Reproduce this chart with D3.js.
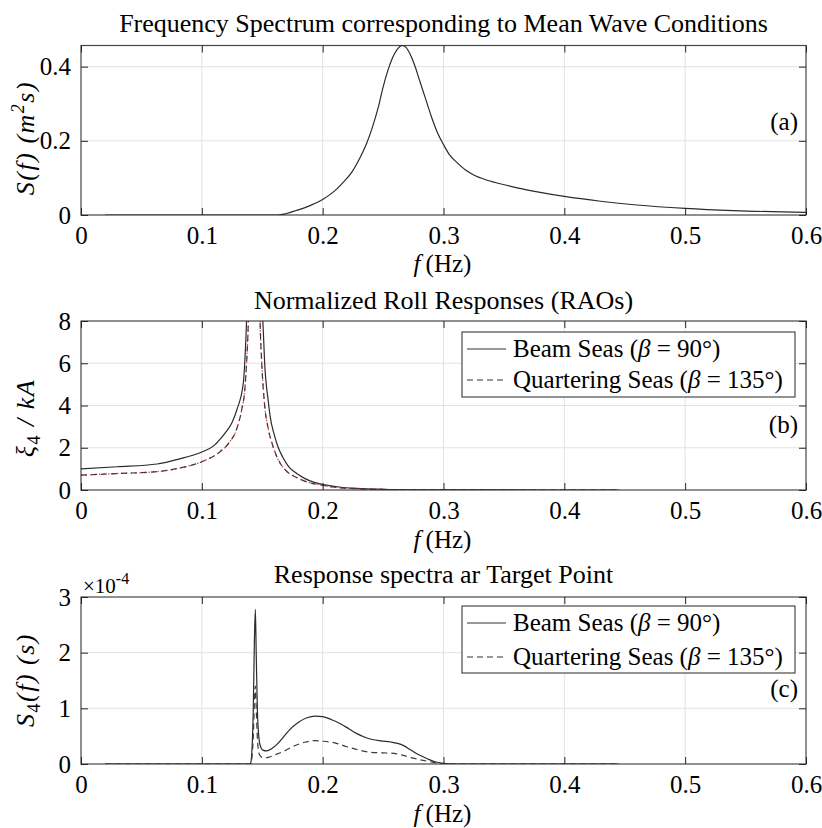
<!DOCTYPE html>
<html>
<head>
<meta charset="utf-8">
<script src="https://cdn.jsdelivr.net/npm/d3@7/dist/d3.min.js"></script>
<style>
  body { margin: 0; background: #fff; }
  svg text { font-family: "Liberation Serif", "Tinos", "Times New Roman", "DejaVu Serif", serif; fill: #000; }
</style>
</head>
<body>
<svg id="chart" width="822" height="828"></svg>
<script>
// ---- shared axis ticks ----
const xTicks = [0, 0.1, 0.2, 0.3, 0.4, 0.5, 0.6];
const yTicksA = [0, 0.2, 0.4];
const yTicksB = [0, 2, 4, 6, 8];
const yTicksC = [0, 1e-4, 2e-4, 3e-4];

// ---- (a) wave frequency spectrum S(f) [m^2 s] ----
const freqA = [0.02, 0.06, 0.1, 0.14, 0.163, 0.17, 0.178, 0.19, 0.2, 0.21, 0.217, 0.224, 0.231,
  0.236, 0.241, 0.246, 0.25, 0.254, 0.258, 0.262, 0.266, 0.269, 0.272, 0.276, 0.28, 0.285,
  0.29, 0.295, 0.3, 0.305, 0.311, 0.318, 0.325, 0.335, 0.346, 0.36, 0.38, 0.4, 0.43, 0.46,
  0.5, 0.54, 0.6];
const specA = [0, 0, 0, 0, 0, 0.004, 0.012, 0.026, 0.042, 0.065, 0.088, 0.115, 0.155,
  0.19, 0.235, 0.29, 0.345, 0.39, 0.425, 0.448, 0.457, 0.452, 0.436, 0.405, 0.365, 0.315,
  0.265, 0.222, 0.19, 0.162, 0.142, 0.122, 0.108, 0.095, 0.085, 0.074, 0.061, 0.05, 0.037, 0.027,
  0.018, 0.012, 0.007];

// ---- (b) normalized roll RAOs ----
const freqBeamB = [0, 0.03, 0.063, 0.08, 0.1, 0.11, 0.115, 0.12, 0.125, 0.129, 0.1344, 0.1355,
  0.1365, 0.1372, 0.1395, 0.1435, 0.1475, 0.1505, 0.152, 0.155, 0.1565, 0.16, 0.163, 0.167,
  0.172, 0.178, 0.185, 0.193, 0.202, 0.215, 0.228, 0.25, 0.28, 0.32, 0.38, 0.445];
const raoBeam = [1.0, 1.1, 1.23, 1.45, 1.8, 2.1, 2.4, 2.75, 3.2, 3.8, 5.1, 6.0,
  7.2, 8.3, 14, 40, 14, 8.0, 6.0, 4.2, 3.5, 2.6, 2.05, 1.55,
  1.1, 0.8, 0.55, 0.36, 0.24, 0.13, 0.08, 0.035, 0.01, 0.003, 0, 0];

const freqQuartB = [0, 0.03, 0.063, 0.08, 0.1, 0.115, 0.122, 0.129, 0.133, 0.1358, 0.137, 0.1385,
  0.1405, 0.1435, 0.1465, 0.1482, 0.1496, 0.152, 0.155, 0.159, 0.1647, 0.17, 0.18, 0.19,
  0.198, 0.21, 0.224, 0.25, 0.28, 0.32, 0.38, 0.445];
const raoQuart = [0.7, 0.78, 0.87, 1.02, 1.34, 1.81, 2.2, 2.92, 3.8, 4.9, 6.0, 8.0,
  14, 38, 14, 8.0, 6.0, 4.0, 2.9, 2.05, 1.28, 0.9, 0.55, 0.33,
  0.24, 0.13, 0.07, 0.025, 0.008, 0.002, 0, 0];

// ---- (c) roll response spectra at target point [s] ----
const freqBeamC = [0.02, 0.1, 0.14, 0.1405, 0.1425, 0.1435, 0.1443, 0.145, 0.146, 0.1475, 0.149,
  0.1505, 0.1537, 0.158, 0.163, 0.167, 0.172, 0.18, 0.187, 0.1936, 0.2, 0.207, 0.215, 0.222,
  0.228, 0.235, 0.241, 0.248, 0.2565, 0.262, 0.267, 0.273, 0.28, 0.287, 0.293, 0.3, 0.306,
  0.35, 0.445];
const respBeam = [0, 0, 0, 0.02e-4, 0.9e-4, 2.2e-4, 2.78e-4, 2.0e-4, 0.95e-4, 0.42e-4, 0.29e-4,
  0.25e-4, 0.235e-4, 0.28e-4, 0.37e-4, 0.47e-4, 0.6e-4, 0.75e-4, 0.83e-4, 0.86e-4, 0.85e-4, 0.8e-4, 0.72e-4, 0.63e-4,
  0.55e-4, 0.48e-4, 0.44e-4, 0.415e-4, 0.395e-4, 0.37e-4, 0.33e-4, 0.25e-4, 0.16e-4, 0.09e-4, 0.04e-4, 0.012e-4, 0,
  0, 0];

const freqQuartC = [0.02, 0.1, 0.14, 0.1405, 0.1425, 0.1435, 0.1443, 0.145, 0.146, 0.1475, 0.149,
  0.151, 0.155, 0.16, 0.167, 0.175, 0.185, 0.1936, 0.2, 0.21, 0.22, 0.23, 0.24, 0.25, 0.259,
  0.266, 0.272, 0.28, 0.289, 0.295, 0.3, 0.31, 0.35, 0.445];
const respQuart = [0, 0, 0, 0.01e-4, 0.45e-4, 1.1e-4, 1.4e-4, 1.0e-4, 0.45e-4, 0.18e-4, 0.13e-4,
  0.11e-4, 0.12e-4, 0.16e-4, 0.22e-4, 0.31e-4, 0.39e-4, 0.42e-4, 0.41e-4, 0.38e-4, 0.31e-4, 0.25e-4, 0.21e-4, 0.2e-4, 0.19e-4,
  0.16e-4, 0.12e-4, 0.08e-4, 0.04e-4, 0.015e-4, 0.003e-4, 0, 0, 0];

// ---- legend entries ----
const legendNames = ["Beam Seas", "Quartering Seas"];
const legendHeadings = ["90°", "135°"];

// ---------------------------------------------------------------
const svg = d3.select("#chart");
const L = 81, R = 806;
const AXIS_COLOR = "#262626";
const GRID_COLOR = "#e2e2e2";
const SERIF = '"Liberation Serif", "Tinos", "Times New Roman", "DejaVu Serif", serif';

function zip(fx, fy) { return fx.map((f, i) => [f, fy[i]]); }

function drawPanel(p, idx) {
  const x = d3.scaleLinear().domain([0, 0.6]).range([L, R]);
  const y = d3.scaleLinear().domain(p.yDomain).range([p.bottom, p.top]);
  const g = svg.append("g").attr("font-family", SERIF);

  // grid
  g.append("g").selectAll("line").data(xTicks.slice(1, -1)).join("line")
    .attr("x1", d => x(d)).attr("x2", d => x(d))
    .attr("y1", p.top).attr("y2", p.bottom)
    .attr("stroke", GRID_COLOR).attr("stroke-width", 1);
  g.append("g").selectAll("line").data(p.yTicks.filter(v => v > p.yDomain[0] && v < p.yDomain[1])).join("line")
    .attr("x1", L).attr("x2", R)
    .attr("y1", d => y(d)).attr("y2", d => y(d))
    .attr("stroke", GRID_COLOR).attr("stroke-width", 1);

  // data lines, clipped to the axes box
  const clipId = "clip" + idx;
  svg.append("clipPath").attr("id", clipId).append("rect")
    .attr("x", L).attr("y", p.top).attr("width", R - L).attr("height", p.bottom - p.top);
  const line = d3.line().x(d => x(d[0])).y(d => y(d[1])).curve(d3.curveMonotoneX);
  const lg = g.append("g").attr("clip-path", `url(#${clipId})`);
  p.series.forEach(s => {
    lg.append("path").datum(s.data)
      .attr("d", line)
      .attr("fill", "none")
      .attr("stroke", s.color)
      .attr("stroke-width", s.width)
      .attr("stroke-dasharray", s.dash || null)
      .attr("stroke-opacity", s.opacity || 1);
  });

  // axes with inward ticks on all four sides
  const fmtX = d => d === 0 ? "0" : d3.format(".1f")(d);
  const bottomAx = g.append("g").attr("transform", `translate(0,${p.bottom})`)
    .call(d3.axisBottom(x).tickValues(xTicks).tickSize(-7).tickPadding(11).tickFormat(fmtX));
  const topAx = g.append("g").attr("transform", `translate(0,${p.top})`)
    .call(d3.axisTop(x).tickValues(xTicks).tickSize(-7).tickFormat(""));
  const leftAx = g.append("g").attr("transform", `translate(${L},0)`)
    .call(d3.axisLeft(y).tickValues(p.yTicks).tickSize(-7).tickPadding(10).tickFormat(p.yFormat));
  const rightAx = g.append("g").attr("transform", `translate(${R},0)`)
    .call(d3.axisRight(y).tickValues(p.yTicks).tickSize(-7).tickFormat(""));
  [bottomAx, topAx, leftAx, rightAx].forEach(a => {
    a.attr("font-family", SERIF).attr("font-size", 25);
    a.select(".domain").remove();
    a.selectAll(".tick line").attr("stroke", AXIS_COLOR).attr("stroke-width", 1);
    a.selectAll(".tick text").attr("fill", "#000");
  });

  // axes box
  g.append("rect").attr("x", L).attr("y", p.top).attr("width", R - L).attr("height", p.bottom - p.top)
    .attr("fill", "none").attr("stroke", AXIS_COLOR).attr("stroke-width", 1.2).attr("stroke-opacity", 0.85);

  // title
  g.append("text").attr("x", (L + R) / 2).attr("y", p.titleY).attr("text-anchor", "middle")
    .attr("font-size", 26).text(p.title);

  // x label: f (Hz)
  const xl = g.append("text").attr("x", (L + R) / 2 - 1).attr("y", p.xLabelY).attr("text-anchor", "middle")
    .attr("font-size", 25);
  xl.append("tspan").attr("font-style", "italic").text("f");
  xl.append("tspan").text("\u2009(Hz)");

  // y label
  const yl = g.append("text").attr("transform", `translate(${p.yLabelX},${p.yLabelY}) rotate(-90)`)
    .attr("text-anchor", "middle").attr("font-size", 26).attr("font-style", "italic")
    .attr("letter-spacing", 1.5);
  p.yLabel(yl);

  // panel tag
  g.append("text").attr("x", 798).attr("y", p.tagY).attr("text-anchor", "end")
    .attr("font-size", 25).text(p.tag);

  // legend
  if (p.legend) {
    const lgd = p.legend;
    const box = g.append("g");
    box.append("rect").attr("x", lgd.x).attr("y", lgd.y).attr("width", lgd.w).attr("height", lgd.h)
      .attr("fill", "#fff").attr("stroke", AXIS_COLOR).attr("stroke-width", 1);
    legendNames.forEach((name, i) => {
      const ry = lgd.rows[i];
      box.append("line").attr("x1", lgd.x + 5).attr("x2", lgd.x + 44).attr("y1", ry).attr("y2", ry)
        .attr("stroke", "#333").attr("stroke-width", 1.1)
        .attr("stroke-dasharray", i === 1 ? "6,4" : null);
      const t = box.append("text").attr("x", lgd.x + 51).attr("y", ry).attr("dy", "0.33em")
        .attr("font-size", 25);
      t.append("tspan").text(name + " (");
      t.append("tspan").attr("font-style", "italic").text("\u03B2");
      t.append("tspan").text(" = " + legendHeadings[i] + ")");
    });
  }

  if (p.extra) p.extra(g);
}

const beamStyle = { color: "#2b2b2b", width: 1.2 };
const quartStyle = { color: "#3a3a3a", width: 1.2, dash: "6,4" };

const panels = [
  {
    top: 45.5, bottom: 215, yDomain: [0, 0.457], yTicks: yTicksA,
    yFormat: d => d === 0 ? "0" : d3.format(".1f")(d),
    title: "Frequency Spectrum corresponding to Mean Wave Conditions", titleY: 32,
    xLabelY: 272, yLabelX: 34, yLabelY: 138, tag: "(a)", tagY: 130,
    series: [{ data: zip(freqA, specA), ...beamStyle }],
    yLabel: t => {
      t.append("tspan").text("S(f) (m");
      t.append("tspan").attr("dy", -10).attr("font-size", 18).text("2");
      t.append("tspan").attr("dy", 10).text("s)");
    }
  },
  {
    top: 321, bottom: 490, yDomain: [0, 8], yTicks: yTicksB,
    yFormat: d3.format("d"),
    title: "Normalized Roll Responses (RAOs)", titleY: 309,
    xLabelY: 548, yLabelX: 34, yLabelY: 418, tag: "(b)", tagY: 433,
    series: [
      { data: zip(freqBeamB, raoBeam), ...beamStyle },
      { data: zip(freqQuartB, raoQuart), color: "#ff3030", width: 1.3, dash: "1.5,3", opacity: 0.9 },
      { data: zip(freqQuartB, raoQuart), ...quartStyle }
    ],
    legend: { x: 462, y: 332, w: 333, h: 65, rows: [349, 380] },
    yLabel: t => {
      t.append("tspan").text("\u03BE");
      t.append("tspan").attr("dy", 6).attr("font-size", 18).attr("font-style", "normal").text("4");
      t.append("tspan").attr("dy", -6).text(" / kA");
    }
  },
  {
    top: 597, bottom: 764, yDomain: [0, 3e-4], yTicks: yTicksC,
    yFormat: d => String(Math.round(d * 1e4)),
    title: "Response spectra ar Target Point", titleY: 583,
    xLabelY: 822, yLabelX: 34, yLabelY: 680, tag: "(c)", tagY: 697,
    series: [
      { data: zip(freqBeamC, respBeam), ...beamStyle },
      { data: zip(freqQuartC, respQuart), ...quartStyle }
    ],
    legend: { x: 462, y: 606, w: 333, h: 67, rows: [623, 657] },
    yLabel: t => {
      t.append("tspan").text("S");
      t.append("tspan").attr("dy", 6).attr("font-size", 18).attr("font-style", "normal").text("4");
      t.append("tspan").attr("dy", -6).text("(f) (s)");
    },
    extra: g => {
      const e = g.append("text").attr("x", 83).attr("y", 593).attr("font-size", 21).attr("fill", AXIS_COLOR);
      e.append("tspan").text("\u00D710");
      e.append("tspan").attr("dy", -9).attr("font-size", 16).text("-4");
    }
  }
];

panels.forEach((p, i) => drawPanel(p, i));
</script>
</body>
</html>
